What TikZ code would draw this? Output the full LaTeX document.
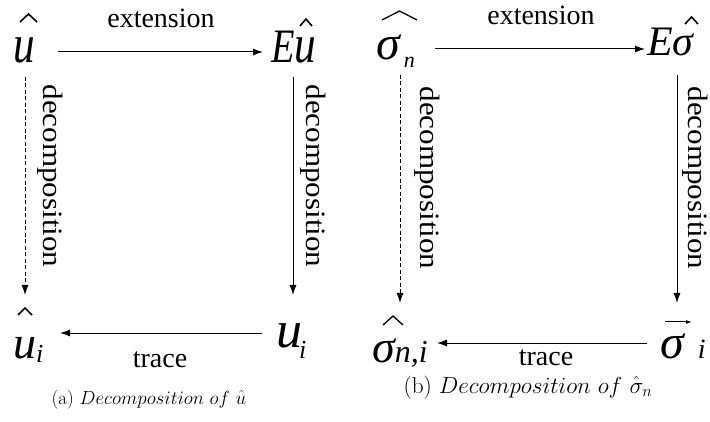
\documentclass[tikz,border=0pt]{standalone}
\usepackage{fontspec}
\newfontfamily\tms{Liberation Serif}
\usetikzlibrary{arrows.meta}
\newcommand\bigit[1]{\tms\itshape\fontsize{#1}{#1}\selectfont}
\begin{document}
\begin{tikzpicture}[x=1pt,y=-1pt,
  conn/.style={line width=1pt,-{Latex[length=10pt,width=7pt]}},
  dconn/.style={conn,dash pattern=on 4pt off 2.5pt},
  lbl/.style={font=\tms\fontsize{28}{28}\selectfont,inner sep=0pt,anchor=base},
  vlbl/.style={font=\tms\fontsize{28}{28}\selectfont,inner sep=0pt,anchor=center,rotate=-90,xscale=1.11},
  sym/.style={inner sep=0pt,anchor=base west},
  hatline/.style={line width=1.6pt,line join=miter},
  capt/.style={inner sep=0pt,anchor=base}]
\useasboundingbox (0,0) rectangle (710,422);

% ---------- left panel ----------
\node[sym,font={\bigit{54}},xscale=0.8] (uA) at (13,63) {u};
\node[sym,font={\bigit{48}},xscale=0.8] (EuA) at (271,63) {E\fontsize{54}{54}\selectfont u};
\node[sym,font={\bigit{46}}] (uiA) at (13,358) {u{\fontsize{26}{26}\selectfont\raisebox{-4pt}{i}}};
\node[sym,font={\bigit{52}}] (uiB) at (276,347) {u\hspace{-3pt}{\fontsize{26}{26}\selectfont\raisebox{-11pt}{i}}};

\draw[hatline] (20,22) -- (28.5,14) -- (37,22);
\draw[hatline] (300,26) -- (306,19) -- (312,26);
\draw[hatline] (18,315) -- (25,308) -- (32,315);

\coordinate (a1) at (58,52);  \coordinate (a2) at (263,52);
\coordinate (b1) at (25,77);  \coordinate (b2) at (25,295);
\coordinate (c1) at (293,77); \coordinate (c2) at (293,295);
\coordinate (d1) at (262,333); \coordinate (d2) at (60,333);
\draw[conn] (a1) -- (a2);
\draw[dconn] (b1) -- (b2);
\draw[conn] (c1) -- (c2);
\draw[conn] (d1) -- (d2);

\node[lbl] (extA) at (161,28) {extension};
\node[lbl] (trA) at (160,367) {trace};
\node[vlbl] (decA1) at (50,176) {decomposition};
\node[vlbl] (decA2) at (313,176) {decomposition};

\node[capt,font=\fontsize{17.28}{17.28}\selectfont,scale=1.1] (capA) at (149,404) {(a) $Decomposition\ of\ \hat u$};

% ---------- right panel ----------
\node[sym,font={\bigit{48}}] (snA) at (376,60) {σ\hspace{4pt}{\fontsize{22}{22}\selectfont\raisebox{-8pt}{n}}};
\node[sym,font={\bigit{42}}] (EsA) at (647,56) {Eσ};
\node[sym,font={\bigit{46}}] (sniA) at (372,362) {σ{\fontsize{32}{32}\selectfont n,i}};
\node[sym,font={\bigit{48}}] (siA) at (660,358) {σ\hspace{14pt}{\fontsize{28}{28}\selectfont i}};

\draw[hatline,line width=1.3pt] (382,20) -- (399.5,11) -- (417,20);
\draw[hatline] (685,24) -- (691.5,17) -- (698,24);
\draw[hatline,line width=1.3pt] (383,325) -- (393,316) -- (403,325);
\coordinate (v1) at (665,322); \coordinate (v2) at (692,322);
\draw[line width=1pt,-{Latex[length=6pt,width=4pt]}] (v1) -- (v2);

\coordinate (e1) at (435,49);  \coordinate (e2) at (645,49);
\coordinate (f1) at (400,75);  \coordinate (f2) at (400,303);
\coordinate (g1) at (677,75);  \coordinate (g2) at (677,303);
\coordinate (h1) at (647,343); \coordinate (h2) at (437,343);
\draw[conn] (e1) -- (e2);
\draw[dconn] (f1) -- (f2);
\draw[conn] (g1) -- (g2);
\draw[conn] (h1) -- (h2);

\node[lbl] (extB) at (541,25) {extension};
\node[lbl] (trB) at (546,365) {trace};
\node[vlbl] (decB1) at (427,178) {decomposition};
\node[vlbl] (decB2) at (695,178) {decomposition};

\node[capt,font=\fontsize{20.74}{20.74}\selectfont,scale=1.12] (capB) at (528,393) {(b) $Decomposition\ of\ \hat\sigma_n$};
\end{tikzpicture}
\end{document}
